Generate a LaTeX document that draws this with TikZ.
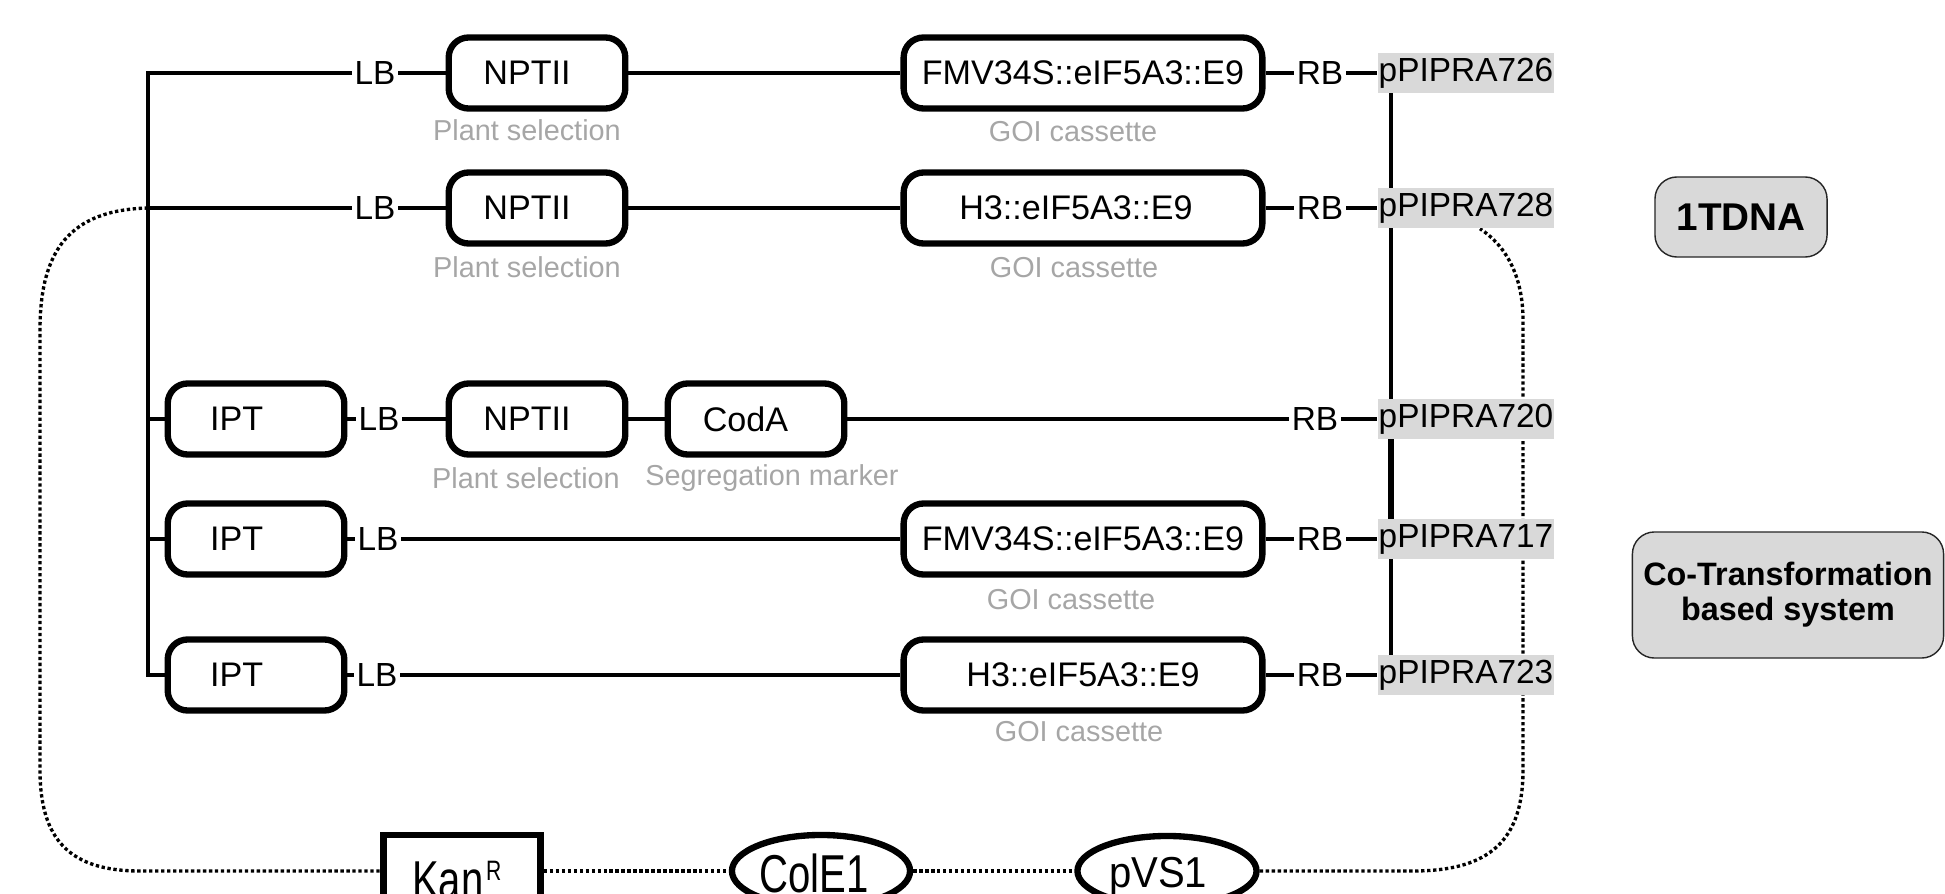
\documentclass[tikz,border=0pt]{standalone}
\usepackage{fontspec}
\usepackage{graphicx}
\setmainfont{Liberation Sans}
\usetikzlibrary{shapes.geometric,backgrounds,calc}
\definecolor{lblgray}{RGB}{217,217,217}
\definecolor{subgray}{RGB}{166,166,166}
\newcommand{\padr}[1]{\rule{#1}{0pt}}
\begin{document}
\begin{tikzpicture}[x=0.01cm,y=-0.01cm,
  rbox/.style={draw,line width=1.8pt,rounded corners=0.2cm,minimum height=0.71cm,inner sep=0pt,font=\fontsize{9.7}{11}\selectfont},
  smallbox/.style={rbox,minimum width=1.765cm},
  widebox/.style={rbox,minimum width=3.585cm},
  bd/.style={inner sep=0.6pt,font=\fontsize{9.5}{11}\selectfont},
  plab/.style={fill=lblgray,inner xsep=0.3pt,inner ysep=1.2pt,text height=7pt,text depth=2pt,font=\fontsize{9.5}{11}\selectfont},
  sub/.style={text=subgray,inner sep=0pt,font=\fontsize{8.2}{10}\selectfont},
  conn/.style={line width=1.05pt},
  dots/.style={line width=0.95pt,dash pattern=on 0.95pt off 0.75pt},
  sysbox/.style={draw=black!85,fill=lblgray,line width=0.4pt,rounded corners=0.22cm,align=center,inner xsep=1pt},
  bottomshape/.style={draw,line width=1.8pt,inner sep=0pt,font=\fontsize{11.4}{13}\selectfont}
]
\useasboundingbox (0,0) rectangle (1945,894);

% Row 1
\node[bd] (lb1) at (375,73) {LB};
\node[smallbox] (n1) at (537,73) {NPTII\padr{5.7pt}};
\node[widebox] (g1) at (1083,73) {FMV34S::eIF5A3::E9};
\node[bd] (rb1) at (1320,73) {RB};
\node[plab] (p726) at (1466,73) {pPIPRA726};
\node[sub] (s1a) at (527,130) {Plant selection};
\node[sub] (s1b) at (1073,132) {GOI cassette};

% Row 2
\node[bd] (lb2) at (375,208) {LB};
\node[smallbox] (n2) at (537,208) {NPTII\padr{5.7pt}};
\node[widebox] (g2) at (1083,208) {H3::eIF5A3::E9\padr{4pt}};
\node[bd] (rb2) at (1320,208) {RB};
\node[plab] (p728) at (1466,208) {pPIPRA728};
\node[sub] (s2a) at (527,267) {Plant selection};
\node[sub] (s2b) at (1074,268) {GOI cassette};

% Row 3
\node[smallbox] (ipt3) at (256,419) {IPT\padr{11pt}};
\node[bd] (lb3) at (379,419) {LB};
\node[smallbox] (n3) at (537,419) {NPTII\padr{5.7pt}};
\node[smallbox] (coda) at (756,419) {CodA\padr{6pt}};
\node[bd] (rb3) at (1315,419) {RB};
\node[plab] (p720) at (1466,419) {pPIPRA720};
\node[sub] (s3a) at (526,478) {Plant selection};
\node[sub] (s3b) at (772,478) {Segregation marker};

% Row 4
\node[smallbox] (ipt4) at (256,539) {IPT\padr{11pt}};
\node[bd] (lb4) at (378,539) {LB};
\node[widebox] (g4) at (1083,539) {FMV34S::eIF5A3::E9};
\node[bd] (rb4) at (1320,539) {RB};
\node[plab] (p717) at (1466,539) {pPIPRA717};
\node[sub] (s4b) at (1071,600) {GOI cassette};

% Row 5
\node[smallbox] (ipt5) at (256,675) {IPT\padr{11pt}};
\node[bd] (lb5) at (377,675) {LB};
\node[widebox] (g5) at (1083,675) {H3::eIF5A3::E9};
\node[bd] (rb5) at (1320,675) {RB};
\node[plab] (p723) at (1466,675) {pPIPRA723};
\node[sub] (s5b) at (1079,732) {GOI cassette};

% Bottom backbone elements
\node[bottomshape,minimum width=1.57cm,minimum height=0.72cm] (kan) at (462,871)
  {\raisebox{-7.7pt}[0pt][0pt]{\scalebox{1}[1.33]{Kan\hspace{0.8pt}\raisebox{3.8pt}{\fontsize{6}{7}\selectfont R}}}\padr{3pt}};
\node[bottomshape,ellipse,minimum width=1.78cm,minimum height=0.72cm] (cole1) at (821,871)
  {\raisebox{-6pt}[0pt][0pt]{\scalebox{1}[1.33]{ColE1}}\padr{4pt}};
\node[bottomshape,ellipse,minimum width=1.79cm,minimum height=0.70cm] (pvs) at (1167,871)
  {\raisebox{-4.6pt}[0pt][0pt]{\scalebox{1}[1.08]{pVS1}}\padr{5pt}};

% System boxes
\node[sysbox,minimum width=1.72cm,minimum height=0.80cm,font=\fontsize{11}{13}\selectfont\bfseries] (t1) at (1741,217) {1TDNA};
\node[sysbox,minimum width=3.11cm,minimum height=1.26cm,font=\fontsize{9.2}{10}\selectfont\bfseries] (cot) at (1788,595) {Co-Transformation\\based system};

\coordinate (vx) at (148,0);
\coordinate (rx) at (1391,0);
\coordinate (j2) at (lb2.west -| vx);

\begin{pgfonlayer}{background}
  % dotted backbone (passes behind the plasmid labels)
  \draw[dots] (j2) .. controls (70,210) and (40,250) .. (40,330) -- (40,770)
    .. controls (40,840) and (70,871) .. (140,871) -- (kan.west);
  \draw[dots] (kan.east) -- (cole1.west);
  \draw[dots] (cole1.east) -- (pvs.west);
  \draw[dots] (pvs.east) -- (1413,871) .. controls (1490,871) and (1523,840) .. (1523,770)
    -- (1523,320) .. controls (1523,275) and (1505,245) .. ($(p728.south)+(14,0)$);
  % right vertical line behind the plasmid labels
  \draw[conn] (p726.center -| rx) -- (p723.center -| rx);
  \draw[line width=1.8pt] (p720.center -| rx) -- (p717.center -| rx);
\end{pgfonlayer}

% left spine
\draw[conn] (lb1.west) -- (lb1.west -| vx) -- (ipt5.west -| vx) -- (ipt5.west);
\draw[conn] (lb2.west) -- (lb2.west -| vx);
\draw[conn] (ipt3.west) -- (ipt3.west -| vx);
\draw[conn] (ipt4.west) -- (ipt4.west -| vx);

% rows
\draw[conn] (lb1) -- (n1) -- (g1) -- (rb1) -- (p726);
\draw[conn] (lb2) -- (n2) -- (g2) -- (rb2) -- (p728);
\draw[conn] (ipt3) -- (lb3) -- (n3) -- (coda) -- (rb3) -- (p720);
\draw[conn] (ipt4) -- (lb4) -- (g4) -- (rb4) -- (p717);
\draw[conn] (ipt5) -- (lb5) -- (g5) -- (rb5) -- (p723);
\end{tikzpicture}
\end{document}
